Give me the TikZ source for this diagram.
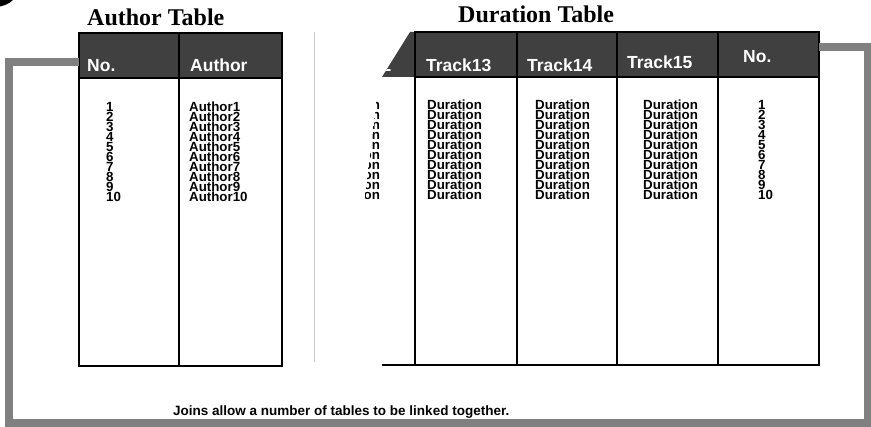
\documentclass[tikz,border=0pt]{standalone}
\usepackage{fontspec}
\setmainfont{Liberation Serif}
\setsansfont{Liberation Sans}
\usetikzlibrary{positioning}
\definecolor{headgray}{RGB}{64, 64, 64}
\definecolor{joingray}{RGB}{128, 128, 128}
\definecolor{rulegray}{RGB}{200, 200, 200}

\begin{document}
\begin{tikzpicture}[x=1pt, y=-1pt,
    headcell/.style={rectangle, draw=black, fill=headgray, line width=1.5pt, inner sep=0pt, outer sep=0pt, anchor=north west, minimum height=45pt},
    bodycell/.style={rectangle, draw=black, line width=1.5pt, inner sep=0pt, outer sep=0pt, anchor=north west, minimum height=288pt},
    headtext/.style={anchor=base west, inner sep=0pt, text=white, font=\sffamily\bfseries\fontsize{17.5}{20}\selectfont},
    rowtext/.style={anchor=base west, inner sep=0pt, font=\sffamily\bfseries\fontsize{13.3}{10}\selectfont},
    tabletitle/.style={anchor=base west, inner sep=0pt, font=\rmfamily\bfseries\fontsize{24}{28}\selectfont},
    joinline/.style={draw=joingray, line width=8pt}]
    \useasboundingbox (0,0) rectangle (871,427);
    \fill[black] (-5,-20) circle (27);

    % Author table
    \node [tabletitle] (atitle) at (87,26) {Author Table};
    \node [headcell, minimum width=100pt] (aNoHead) at (79,33) {};
    \node [headcell, minimum width=103pt] (aNameHead) at (179,33) {};
    \node [bodycell, minimum width=100pt] (aNoBody) at (79,78) {};
    \node [bodycell, minimum width=103pt] (aNameBody) at (179,78) {};
    \node [headtext] at (87,72) {No.};
    \node [headtext] at (190,72) {Author};
    \foreach \i in {1,...,10} {
        \node [rowtext] at (106,{102+10*\i}) {\i};
        \node [rowtext] at (189,{102+10*\i}) {Author\i};
    }

    % Duration table, first column turned away
    \draw [rulegray, line width=1pt] (314,32) -- (314,362);
    \fill [headgray] (382,77) -- (410,32) -- (416,32) -- (416,77) -- cycle;
    \begin{scope}
        \clip (382,77) -- (410,32) -- (416,32) -- (416,77) -- cycle;
        \node [headtext] at (326,72) {Track12};
    \end{scope}
    \begin{scope}
        \clip (377,95) -- (414,95) -- (414,210) -- (363,210) -- cycle;
        \foreach \i in {1,...,10}
            \node [rowtext] at (325,{100+10*\i}) {Duration};
    \end{scope}
    \draw [black, line width=1.5pt] (382,365) -- (415,365);

    \node [tabletitle] (dtitle) at (458,23) {Duration Table};
    \node [headcell, minimum width=102pt] (t13Head) at (415,32) {};
    \node [headcell, minimum width=100pt] (t14Head) at (517,32) {};
    \node [headcell, minimum width=101pt] (t15Head) at (617,32) {};
    \node [headcell, minimum width=101pt] (dNoHead) at (718,32) {};
    \node [bodycell, minimum width=102pt] (t13Body) at (415,77) {};
    \node [bodycell, minimum width=100pt] (t14Body) at (517,77) {};
    \node [bodycell, minimum width=101pt] (t15Body) at (617,77) {};
    \node [bodycell, minimum width=101pt] (dNoBody) at (718,77) {};
    \node [headtext] at (426,72) {Track13};
    \node [headtext] at (527,72) {Track14};
    \node [headtext] at (627,69) {Track15};
    \node [headtext] at (743,63) {No.};
    \foreach \i in {1,...,10} {
        \node [rowtext] at (427,{100+10*\i}) {Duration};
        \node [rowtext] at (535,{100+10*\i}) {Duration};
        \node [rowtext] at (643,{100+10*\i}) {Duration};
        \node [rowtext] at (758,{100+10*\i}) {\i};
    }

    % join between the two tables
    \draw [joinline] ([yshift=-6.5pt]aNoHead.west) -- ++(-70,0) |- (868,423) |- ([yshift=7pt]dNoHead.east);

    \node [rowtext, font=\sffamily\bfseries\fontsize{13.5}{16}\selectfont] (note) at (173,416) {Joins allow a number of tables to be linked together.};
\end{tikzpicture}
\end{document}
